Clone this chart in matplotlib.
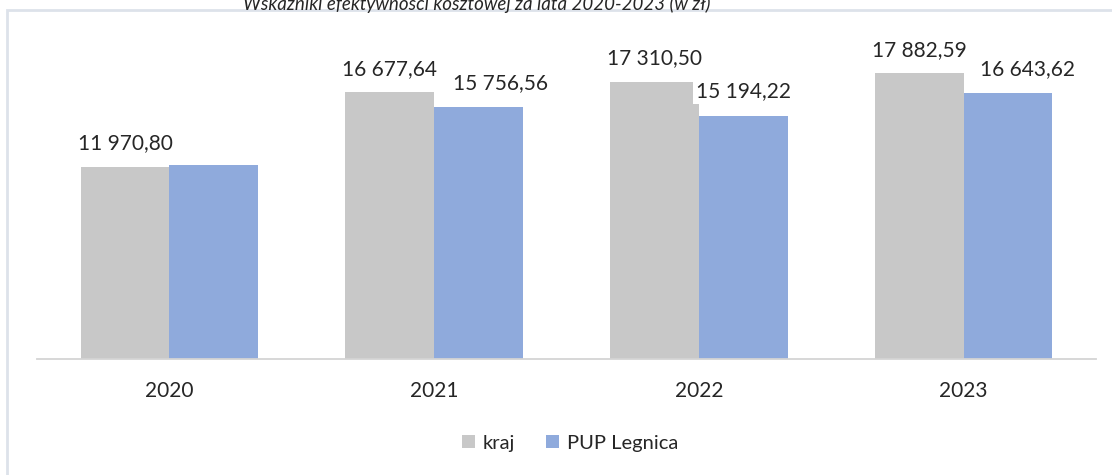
import matplotlib.pyplot as plt
import numpy as np
from matplotlib.patches import Rectangle

# --- Data ---
years = ["2020", "2021", "2022", "2023"]
kraj = [11970.80, 16677.64, 17310.50, 17882.59]
pup_legnica = [12100.00, 15756.56, 15194.22, 16643.62]
# which values get a label (2020 PUP has none in the source)
kraj_labels = ["11 970,80", "16 677,64", "17 310,50", "17 882,59"]
pup_labels = [None, "15 756,56", "15 194,22", "16 643,62"]

# label offsets in pixels (x shift, y above bar top)
kraj_off = [(0, 24), (0, 23), (0, 24), (0, 23)]
pup_off = [(0, 24), (22, 24), (0, 25), (20, 24)]

plt.rcParams['font.family'] = ['Lato', 'DejaVu Sans']
text_col = '#262626'
c_kraj = '#C8C8C8'
c_pup = '#8FAADC'

W, H = 1112, 475
fig = plt.figure(figsize=(W / 100, H / 100), dpi=100)

# axes placed in pixel terms: baseline at y=359, x from 37 to 1096
ax = fig.add_axes([37 / W, (H - 359) / H, (1096 - 37) / W, 320 / H])
ax.set_ylim(0, 20000)
ax.set_xlim(-0.5, len(years) - 0.5)

x = np.arange(len(years))
bw = 0.335
ax.bar(x - bw / 2, kraj, bw, color=c_kraj, label='kraj', zorder=2)
ax.bar(x + bw / 2, pup_legnica, bw, color=c_pup, label='PUP Legnica', zorder=2)

for i in range(len(years)):
    ax.annotate(kraj_labels[i], (x[i] - bw / 2, kraj[i]), xytext=kraj_off[i],
                textcoords='offset pixels', ha='center', va='center',
                fontsize=15, color=text_col, zorder=3)
    if pup_labels[i]:
        ax.annotate(pup_labels[i], (x[i] + bw / 2, pup_legnica[i]), xytext=pup_off[i],
                    textcoords='offset pixels', ha='center', va='center',
                    fontsize=15, color=text_col, zorder=3,
                    bbox=dict(boxstyle='square,pad=0.15', facecolor='white', edgecolor='none'))

for s in ['top', 'right', 'left']:
    ax.spines[s].set_visible(False)
ax.spines['bottom'].set_color('#D4D4D4')
ax.spines['bottom'].set_linewidth(1.3)
ax.set_yticks([])
ax.set_xticks(x)
ax.set_xticklabels(years, fontsize=15, color=text_col)
ax.tick_params(axis='x', length=0, pad=16)

leg = fig.legend(loc='center', bbox_to_anchor=(570 / W, (H - 443) / H), ncol=2,
                 frameon=False, fontsize=14.5, handlelength=0.65, handleheight=0.65,
                 columnspacing=1.5, handletextpad=0.4)
for t in leg.get_texts():
    t.set_color(text_col)

# chart frame (only top and left visible in the crop)
fig.patches.append(Rectangle((7 / W, -0.1), 1.2, (H - 10) / H + 0.1,
                             transform=fig.transFigure, fill=False,
                             edgecolor='#DDE2EA', linewidth=2))

# title, cut off by the top edge like in the source
fig.text(477 / W, 1 - 4 / H, "Wskaźniki efektywności kosztowej za lata 2020-2023 (w zł)",
         ha='center', va='center', fontsize=13.5, style='italic', color=text_col)

fig.savefig('out.png', dpi=100)
